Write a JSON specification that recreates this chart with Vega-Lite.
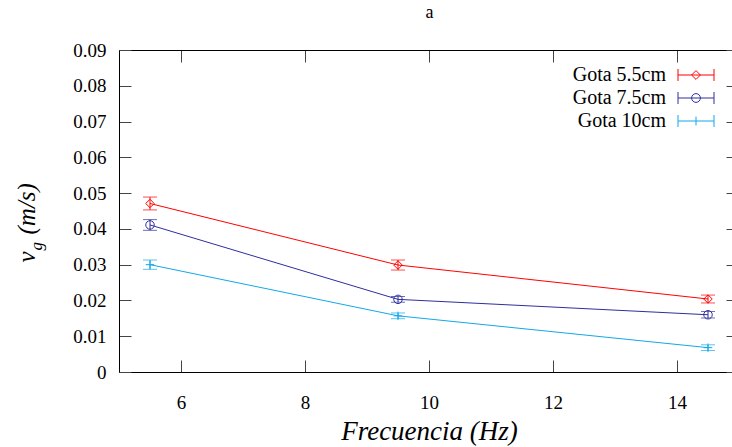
{
  "$schema": "https://vega.github.io/schema/vega-lite/v6.json",
  "width": 613,
  "height": 322,
  "autosize": {"type": "none"},
  "padding": {"left": 119, "top": 50, "right": 0, "bottom": 75},
  "background": "white",
  "title": {
    "text": "a",
    "frame": "group",
    "font": "'Liberation Serif', 'Times New Roman', serif",
    "fontSize": 18,
    "fontWeight": "normal",
    "color": "black",
    "anchor": "middle",
    "baseline": "alphabetic",
    "offset": 5,
    "dx": 4
  },
  "config": {
    "view": {"stroke": null},
    "axis": {
      "grid": false,
      "labelFont": "'Liberation Serif', 'Times New Roman', serif",
      "labelFontSize": 19,
      "labelColor": "black",
      "titleFont": "'Liberation Serif', 'Times New Roman', serif",
      "titleFontStyle": "italic",
      "titleFontWeight": "normal",
      "titleColor": "black",
      "domainColor": "black",
      "domainWidth": 1,
      "tickColor": "#444444",
      "tickWidth": 1
    },
    "legend": {
      "orient": "none",
      "legendX": 567,
      "legendY": 15,
      "title": null,
      "padding": 0,
      "labelFont": "'Liberation Serif', 'Times New Roman', serif",
      "labelFontSize": 20,
      "labelColor": "black",
      "labelAlign": "right",
      "labelOffset": -40,
      "labelLimit": 0,
      "symbolSize": 64,
      "symbolStrokeWidth": 1,
      "symbolOpacity": 1,
      "symbolFillColor": "transparent",
      "rowPadding": 3
    }
  },
  "data": {
    "values": [
      {"serie": "Gota 5.5cm", "f": 5.5, "v": 0.0471, "e": 0.0018},
      {"serie": "Gota 5.5cm", "f": 9.5, "v": 0.0299, "e": 0.0014},
      {"serie": "Gota 5.5cm", "f": 14.5, "v": 0.0204, "e": 0.0011},
      {"serie": "Gota 7.5cm", "f": 5.5, "v": 0.0411, "e": 0.0015},
      {"serie": "Gota 7.5cm", "f": 9.5, "v": 0.0203, "e": 0.0008},
      {"serie": "Gota 7.5cm", "f": 14.5, "v": 0.0160, "e": 0.0009},
      {"serie": "Gota 10cm", "f": 5.5, "v": 0.0300, "e": 0.0013},
      {"serie": "Gota 10cm", "f": 9.5, "v": 0.0157, "e": 0.0008},
      {"serie": "Gota 10cm", "f": 14.5, "v": 0.0068, "e": 0.0008}
    ]
  },
  "layer": [
    {
      "mark": {"type": "line", "strokeWidth": 1},
      "encoding": {
        "x": {
          "field": "f",
          "type": "quantitative",
          "scale": {"domain": [5, 14.887], "nice": false, "zero": false},
          "axis": {
            "orient": "bottom",
            "values": [6, 8, 10, 12, 14],
            "tickSize": -12,
            "labelPadding": 33,
            "title": "Frecuencia (Hz)",
            "titleFontSize": 27,
            "titleBaseline": "alphabetic",
            "titleX": 310,
            "titleY": 67
          }
        },
        "y": {
          "field": "v",
          "type": "quantitative",
          "scale": {"domain": [0, 0.09], "nice": false},
          "axis": {
            "orient": "left",
            "values": [0, 0.01, 0.02, 0.03, 0.04, 0.05, 0.06, 0.07, 0.08, 0.09],
            "labelExpr": "datum.value == 0 ? '0' : format(datum.value, '.2f')",
            "tickSize": -12,
            "labelPadding": 25,
            "title": "(m/s)",
            "titleFontSize": 25,
            "titleAngle": 270,
            "titleAlign": "left",
            "titleBaseline": "alphabetic",
            "titleX": -85,
            "titleY": 184
          }
        },
        "color": {
          "field": "serie",
          "type": "nominal",
          "scale": {
            "domain": ["Gota 5.5cm", "Gota 7.5cm", "Gota 10cm"],
            "range": ["#ff0000", "#2e2e9e", "#12a8e8"]
          },
          "legend": null
        }
      }
    },
    {
      "mark": {"type": "errorbar", "ticks": true, "size": 14, "thickness": 1},
      "encoding": {
        "x": {"field": "f", "type": "quantitative", "axis": null},
        "y": {"field": "v", "type": "quantitative", "axis": null},
        "yError": {"field": "e"},
        "color": {
          "field": "serie",
          "type": "nominal",
          "scale": {
            "domain": ["Gota 5.5cm", "Gota 7.5cm", "Gota 10cm"],
            "range": ["#ff0000", "#2e2e9e", "#12a8e8"]
          },
          "legend": null
        }
      }
    },
    {
      "mark": {"type": "point", "filled": false, "size": 72, "strokeWidth": 1, "opacity": 1},
      "encoding": {
        "x": {
          "field": "f",
          "type": "quantitative",
          "axis": {
            "orient": "top",
            "values": [6, 8, 10, 12, 14],
            "labels": false,
            "tickSize": -12,
            "title": "v",
            "titleFontSize": 25,
            "titleAngle": 270,
            "titleAlign": "left",
            "titleBaseline": "alphabetic",
            "titleX": -85,
            "titleY": 212
          }
        },
        "y": {
          "field": "v",
          "type": "quantitative",
          "axis": {
            "orient": "right",
            "values": [0, 0.01, 0.02, 0.03, 0.04, 0.05, 0.06, 0.07, 0.08, 0.09],
            "labels": false,
            "domain": false,
            "tickSize": -6,
            "title": "g",
            "titleFontSize": 17,
            "titleAngle": 270,
            "titleAlign": "left",
            "titleBaseline": "alphabetic",
            "titleX": -691,
            "titleY": 200
          }
        },
        "color": {
          "field": "serie",
          "type": "nominal",
          "scale": {
            "domain": ["Gota 5.5cm", "Gota 7.5cm", "Gota 10cm"],
            "range": ["#ff0000", "#2e2e9e", "#12a8e8"]
          },
          "legend": null
        },
        "shape": {
          "condition": [
            {"test": "datum.serie === 'Gota 5.5cm'", "value": "diamond"},
            {"test": "datum.serie === 'Gota 7.5cm'", "value": "circle"}
          ],
          "value": "M-1,0H1M0,-1V1"
        }
      }
    },
    {
      "mark": {"type": "point", "filled": false, "opacity": 0, "strokeWidth": 1, "size": 64},
      "encoding": {
        "x": {"field": "f", "type": "quantitative", "axis": null},
        "y": {"field": "v", "type": "quantitative", "axis": null},
        "color": {
          "field": "serie",
          "type": "nominal",
          "scale": {
            "domain": ["Gota 5.5cm", "Gota 7.5cm", "Gota 10cm"],
            "range": ["#ff0000", "#2e2e9e", "#12a8e8"]
          }
        },
        "shape": {
          "field": "serie",
          "type": "nominal",
          "scale": {
            "domain": ["Gota 5.5cm", "Gota 7.5cm", "Gota 10cm"],
            "range": [
              "M-4.5,0H4.5M-4.5,-1.5V1.5M4.5,-1.5V1.5M-1.1,0L0,-1.1L1.1,0L0,1.1Z",
              "M-4.5,0H4.5M-4.5,-1.5V1.5M4.5,-1.5V1.5M-1.1,0A1.1,1.1 0 1,0 1.1,0A1.1,1.1 0 1,0 -1.1,0",
              "M-4.5,0H4.5M-4.5,-1.5V1.5M4.5,-1.5V1.5M0,-1.1V1.1"
            ]
          }
        }
      }
    }
  ],
  "resolve": {
    "scale": {"color": "independent", "shape": "independent"},
    "legend": {"color": "independent", "shape": "independent"},
    "axis": {"x": "independent", "y": "independent"}
  }
}
